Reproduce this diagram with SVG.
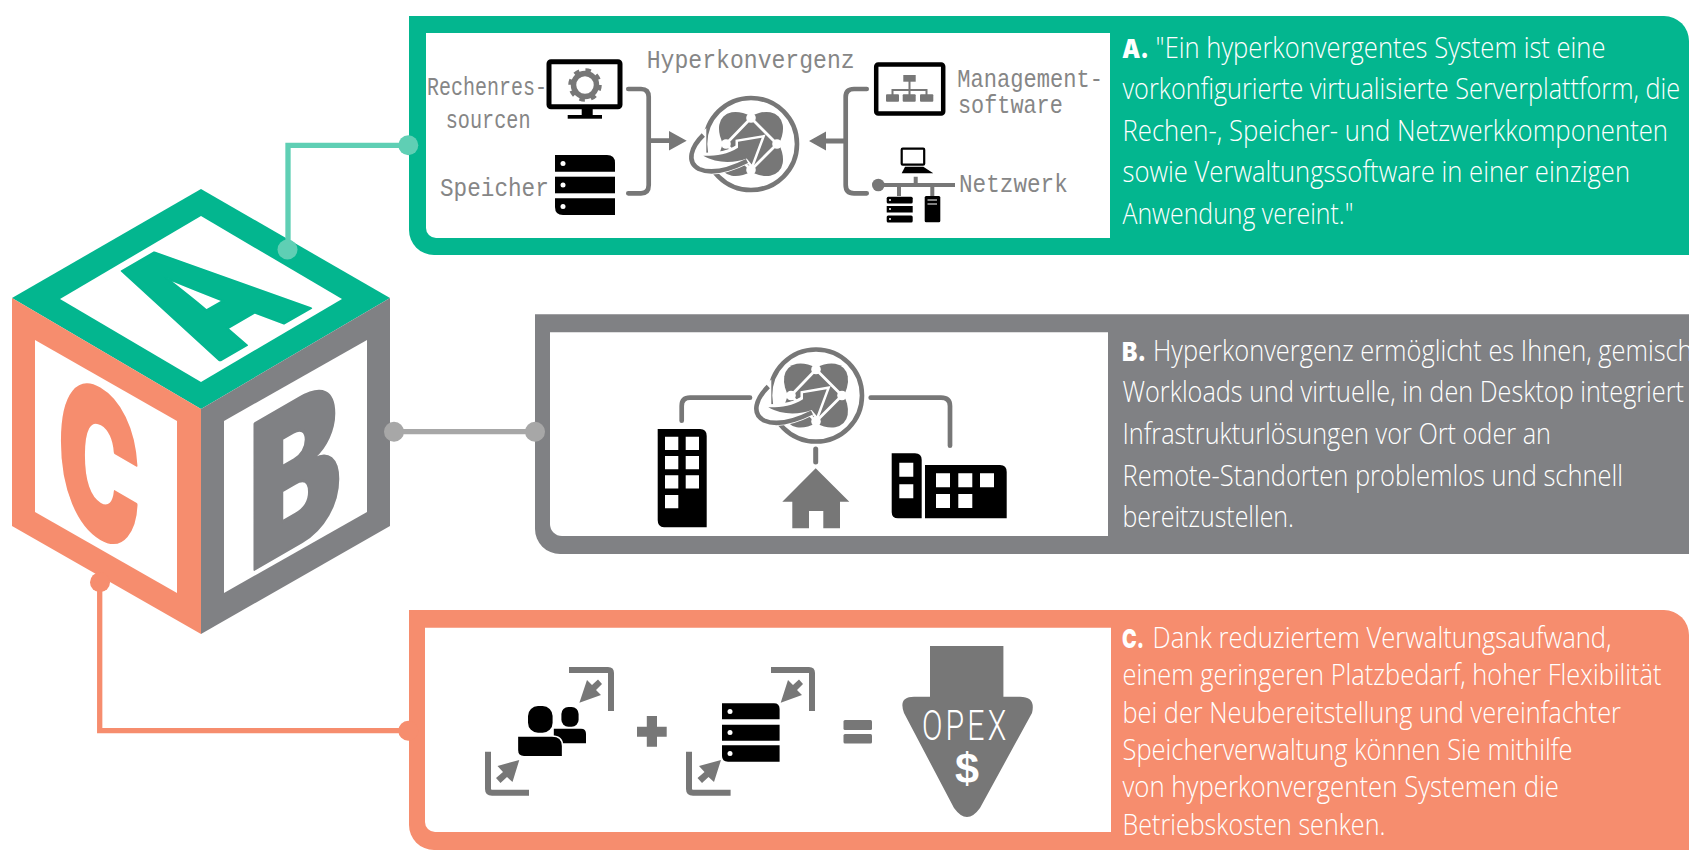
<svg xmlns="http://www.w3.org/2000/svg" width="1689" height="852" viewBox="0 0 1689 852">
<style>
.t{font-family:"Open Sans","Liberation Sans",sans-serif;font-weight:300;font-size:29px;fill:#fff}
.b{font-family:"Inter","Liberation Sans",sans-serif;font-weight:900;font-size:26px;fill:#fff}
.m{font-family:"Liberation Mono","DejaVu Sans Mono",monospace;font-size:26px;fill:#868686}
.big{font-family:"Inter","Liberation Sans",sans-serif;font-weight:900;font-size:200px;stroke-linejoin:round;stroke-width:3px}
.k{fill:#000}.g{fill:#777}.w{fill:#fff}
.ln{fill:none;stroke:#777;stroke-width:4.700px;stroke-linecap:round;stroke-linejoin:round}
.gr{fill:none;stroke:#777;stroke-width:6px}
</style>
<defs>
<symbol id="hyper" overflow="visible" viewBox="-65 -55 130 110" width="130" height="110">
<circle r="46" fill="none" stroke="#777" stroke-width="4.600"/>
<ellipse rx="39" ry="23" transform="rotate(45)" fill="#777"/>
<ellipse rx="39" ry="23" transform="rotate(-45)" fill="#777"/>
<path d="M-25 0L0 -26L26 0L0 26Z" fill="none" stroke="#fff" stroke-width="2.800"/>
<path d="M-47.700 -9C-60 3 -65 18 -52 25C-38 31 -18 24 -4 17L-13 3.800C-24 11 -36 12 -47.700 11.800Z" fill="#fff" stroke="#fff" stroke-width="6"/>
<path d="M-47.700 11.800C-36 12 -24 11 -13 3.800L-13 -2.200L10.700 -6.200L.7 20.500L-4.300 14.500C-16 19 -34 20 -47.700 11.800Z" fill="#fff" stroke="#fff" stroke-width="5"/>
<path d="M-47.700 -9C-60 3 -65 18 -52 25C-38 31 -18 24 -4 17" fill="none" stroke="#777" stroke-width="4.600"/>
<path d="M-47.700 11.800C-36 12 -24 11 -13 3.800L-13 -2.200L10.700 -6.200L.7 20.500L-4.300 14.500C-16 19 -34 20 -47.700 11.800Z" fill="#777"/>
<circle cx="0" cy="-26" r="4.800" fill="#fff"/><circle cx="26" cy="0" r="4.800" fill="#fff"/><circle cx="0" cy="26" r="4.800" fill="#fff"/><circle cx="-25" cy="0" r="4.800" fill="#fff"/>
</symbol>
<symbol id="srv" overflow="visible" viewBox="0 0 60 60" width="60" height="60">
<path d="M0 0H52Q60 0 60 8V16.700H0Z" class="k"/><rect y="21.700" width="60" height="16.600" class="k"/><path d="M0 43.300H60V60H8Q0 60 0 52Z" class="k"/>
<circle cx="8" cy="8.500" r="2.500" class="w"/><circle cx="8" cy="30" r="2.500" class="w"/><circle cx="8" cy="51.500" r="2.500" class="w"/>
</symbol>
</defs>
<g id="cube">
<path d="M201 189L390 298L201 409L12 298Z" fill="#03b68f"/>
<path d="M201 216L342 299L201 382L60 299Z" fill="#fff"/>
<path d="M12 298L201 409V634L12 526Z" fill="#f68d6e"/>
<path d="M35 340L177 421V593L35 512Z" fill="#fff"/>
<path d="M390 298L201 409V634L390 526Z" fill="#808184"/>
<path d="M367 340L224 421V593L367 512Z" fill="#fff"/>
<text class="big" fill="#03b68f" stroke="#03b68f" transform="matrix(.606 -.35 .866 .5 217 362)">A</text>
<text class="big" fill="#808184" stroke="#808184" transform="matrix(.7 -.405 0 1 248 573)">B</text>
<text class="big" fill="#f68d6e" stroke="#f68d6e" transform="matrix(.55 .318 0 1 58 512)">C</text>
</g>
<g id="panel-a">
<path d="M409 16H1664A25 25 0 0 1 1689 41V255H434A25 25 0 0 1 409 230Z" fill="#03b68f"/>
<path d="M426 33H1110V238H436A10 10 0 0 1 426 228Z" fill="#fff"/>
<text class="b" x="1122" y="57.700" textLength="27" lengthAdjust="spacingAndGlyphs">A.</text>
<g transform="translate(1155.600 0) scale(.76 1)"><text class="t" y="57.700" textLength="592" lengthAdjust="spacingAndGlyphs">"Ein hyperkonvergentes System ist eine</text></g>
<g transform="translate(1122.500 0) scale(.76 1)">
<text class="t" y="99.300" textLength="733.600" lengthAdjust="spacingAndGlyphs">vorkonfigurierte virtualisierte Serverplattform, die</text>
<text class="t" y="140.700" textLength="717.800" lengthAdjust="spacingAndGlyphs">Rechen-, Speicher- und Netzwerkkomponenten</text>
<text class="t" y="182.300" textLength="667.800" lengthAdjust="spacingAndGlyphs">sowie Verwaltungssoftware in einer einzigen</text>
<text class="t" y="224" textLength="304" lengthAdjust="spacingAndGlyphs">Anwendung vereint."</text>
</g>
<text class="m" transform="translate(427 95) scale(.8 1)" textLength="150" lengthAdjust="spacingAndGlyphs">Rechenres-</text>
<text class="m" transform="translate(445.700 128) scale(.8 1)" textLength="106" lengthAdjust="spacingAndGlyphs">sourcen</text>
<text class="m" transform="translate(440 196) scale(.8 1)" textLength="136" lengthAdjust="spacingAndGlyphs">Speicher</text>
<text class="m" transform="translate(646.700 68) scale(.8 1)" textLength="260" lengthAdjust="spacingAndGlyphs">Hyperkonvergenz</text>
<text class="m" transform="translate(957.300 86.700) scale(.8 1)" textLength="182" lengthAdjust="spacingAndGlyphs">Management-</text>
<text class="m" transform="translate(958 113) scale(.8 1)" textLength="131" lengthAdjust="spacingAndGlyphs">software</text>
<text class="m" transform="translate(959 192) scale(.8 1)" textLength="136" lengthAdjust="spacingAndGlyphs">Netzwerk</text>
<rect x="549" y="61.800" width="71" height="45" rx="2" fill="#fff" stroke="#000" stroke-width="5"/>
<rect x="581.700" y="109" width="11" height="6" class="k"/><rect x="567.700" y="115" width="34.300" height="3.700" class="k"/>
<circle cx="585" cy="85" r="11.500" fill="none" stroke="#777" stroke-width="5.500"/>
<circle cx="585" cy="85" r="15" fill="none" stroke="#777" stroke-width="3.500" stroke-dasharray="5.500 6.280"/>
<use href="#srv" x="555" y="155"/>
<path class="ln" d="M628.300 89H641Q648.700 89 648.700 97V185Q648.700 193.300 641 193.300H628.300"/>
<path d="M648.700 138.300H669V131L686.700 140.700L669 150.400V143H648.700Z" class="g"/>
<use href="#hyper" x="686" y="89"/>
<path class="ln" d="M866.700 89H854Q845.700 89 845.700 97V185Q845.700 193.300 854 193.300H866.700"/>
<path d="M845.700 138.600H826V131.500L809 141L826 150.500V143.400H845.700Z" class="g"/>
<rect x="876.200" y="64.500" width="67" height="49" rx="2" fill="#fff" stroke="#000" stroke-width="4.500"/>
<rect x="903.300" y="75" width="12.400" height="6.700" class="g"/><path d="M909.500 81V90M892.500 95V90H926.500V95M909.500 90V95" fill="none" stroke="#777" stroke-width="2"/>
<rect x="886" y="94.300" width="13" height="7.400" rx="1" class="g"/><rect x="902.700" y="94.300" width="13" height="7.400" rx="1" class="g"/><rect x="920" y="94.300" width="13.300" height="7.400" rx="1" class="g"/>
<circle cx="878.300" cy="185" r="6.300" class="g"/><path d="M878 185H955M915.700 176.700V185M899 185V196M932.300 185V196" fill="none" stroke="#777" stroke-width="4"/>
<rect x="901.700" y="148.700" width="22.500" height="16" rx="1" fill="#fff" stroke="#000" stroke-width="2.200"/><path d="M905 166.700H923.300L933.300 173.300H901.700Z" class="k"/>
<rect x="886.700" y="196.700" width="26" height="6.800" rx="1.500" class="k"/><rect x="886.700" y="206" width="26" height="6.500" class="k"/><rect x="886.700" y="215.600" width="26" height="6.800" rx="1.500" class="k"/>
<circle cx="890" cy="200" r="1" class="w"/><circle cx="890" cy="209" r="1" class="w"/><circle cx="890" cy="219" r="1" class="w"/>
<rect x="924.700" y="196" width="15.600" height="26.300" rx="1.500" class="k"/><path d="M927.500 200H937M927.500 204H937" stroke="#fff" stroke-width="1" fill="none"/>
</g>
<g id="panel-b">
<path d="M535 314.300H1689V554H560A25 25 0 0 1 535 529Z" fill="#808184"/>
<path d="M550 332.300H1108V536H562A12 12 0 0 1 550 524Z" fill="#fff"/>
<text class="b" x="1122" y="360.700" textLength="24" lengthAdjust="spacingAndGlyphs">B.</text>
<g transform="translate(1153 0) scale(.76 1)"><text class="t" y="360.700" textLength="710" lengthAdjust="spacingAndGlyphs">Hyperkonvergenz ermöglicht es Ihnen, gemisch</text></g>
<g transform="translate(1122.500 0) scale(.76 1)">
<text class="t" y="402" textLength="738.800" lengthAdjust="spacingAndGlyphs">Workloads und virtuelle, in den Desktop integriert</text>
<text class="t" y="444" textLength="563.800" lengthAdjust="spacingAndGlyphs">Infrastrukturlösungen vor Ort oder an</text>
<text class="t" y="485.700" textLength="658.600" lengthAdjust="spacingAndGlyphs">Remote-Standorten problemlos und schnell</text>
<text class="t" y="527" textLength="225.700" lengthAdjust="spacingAndGlyphs">bereitzustellen.</text>
</g>
<use href="#hyper" x="751" y="340.500"/>
<path class="ln" d="M750 397.700H690Q681.700 397.700 681.700 406V420.700"/>
<path class="ln" d="M870.700 397.700H941Q950 397.700 950 406V445.700"/>
<path class="ln" d="M815.700 449V462" style="stroke-width:5px"/>
<path d="M657.700 429H700Q706.700 429 706.700 436V527.300H664Q657.700 527.300 657.700 520Z" class="k"/>
<path fill="#fff" d="M665 436.700h13.300v13.300h-13.300zM685.700 436.700h13.300v13.300h-13.300zM665 456h13.300v13.300h-13.300zM685.700 456h13.300v13.300h-13.300zM665 475.300h13.300v13.300h-13.300zM685.700 475.300h13.300v13.300h-13.300zM665 495h13.300v13.300h-13.300z"/>
<path d="M815.700 468.300L849.300 501.700H840V528.300H823.300V511H809V528.300H792.300V501.700H782.300Z" class="g"/>
<path d="M891.700 453.300H915Q921.700 453.300 921.700 460V518.300H898Q891.700 518.300 891.700 512Z" class="k"/>
<path d="M925 465H1000Q1006.700 465 1006.700 472V518.300H925Z" class="k"/>
<path fill="#fff" d="M899.300 462.700h14v14h-14zM899.300 484.300h14v14h-14zM936 473.300h14v14h-14zM958.300 473.300h14v14h-14zM980 473.300h14v14h-14zM936 494h14v14h-14zM958.300 494h14v14h-14z"/>
</g>
<g id="panel-c">
<path d="M409 610H1664A25 25 0 0 1 1689 635V850H434A25 25 0 0 1 409 825Z" fill="#f68d6e"/>
<path d="M425 627.700H1111V832H435A10 10 0 0 1 425 822Z" fill="#fff"/>
<text class="b" x="1122" y="647.700" textLength="22" lengthAdjust="spacingAndGlyphs">C.</text>
<g transform="translate(1152.600 0) scale(.76 1)"><text class="t" y="647.700" textLength="604" lengthAdjust="spacingAndGlyphs">Dank reduziertem Verwaltungsaufwand,</text></g>
<g transform="translate(1122.500 0) scale(.76 1)">
<text class="t" y="685" textLength="709.200" lengthAdjust="spacingAndGlyphs">einem geringeren Platzbedarf, hoher Flexibilität</text>
<text class="t" y="722.700" textLength="655.900" lengthAdjust="spacingAndGlyphs">bei der Neubereitstellung und vereinfachter</text>
<text class="t" y="760" textLength="592.100" lengthAdjust="spacingAndGlyphs">Speicherverwaltung können Sie mithilfe</text>
<text class="t" y="797" textLength="574.300" lengthAdjust="spacingAndGlyphs">von hyperkonvergenten Systemen die</text>
<text class="t" y="835" textLength="346" lengthAdjust="spacingAndGlyphs">Betriebskosten senken.</text>
</g>
<path class="gr" d="M569 670H608Q611 670 611 673V711"/>
<path class="gr" d="M488 751.700V789Q488 792.700 492 792.700H529"/>
<path class="g" d="M579.400 702.700L587 680L592 685L598 679.500L602 684L596 690L601 695Z"/>
<path class="g" d="M519.300 760L497.500 766L503 772L496 778L500.500 783L507 777L512.500 782Z"/>
<rect x="528" y="706" width="24.600" height="26.700" rx="10" class="k"/>
<rect x="561.400" y="707" width="17.200" height="19.700" rx="7" class="k"/>
<path d="M553.800 728.700H581Q586 728.700 586 734V743.300H553.800Z" class="k"/>
<path d="M517.400 736H552Q562.600 736 562.600 746V756.700H524Q517.400 756.700 517.400 750Z" class="k" stroke="#fff" stroke-width="1.500"/>
<path fill="#777" d="M646.800 716H657V726.700H666.700V736.700H657V746.700H646.800V736.700H637V726.700H646.800Z"/>
<path class="gr" d="M771 670H809Q812 670 812 673V711"/>
<path class="gr" d="M689 751.700V789Q689 792.700 693 792.700H730.600"/>
<path class="g" d="M780.700 702.700L788 680L793 685L799 679.500L803 684L797 690L802 695Z"/>
<path class="g" d="M721 760L699 766L704.500 772L697.500 778L702 783L708.500 777L714 782Z"/>
<path d="M722 703.300H774Q779.600 703.300 779.600 709V719.300H722ZM722 724.700H779.600V740.700H722ZM722 745.300H779.600V761.700H728Q722 761.700 722 756Z" class="k"/>
<circle cx="730" cy="711.500" r="2.500" class="w"/><circle cx="730" cy="732.500" r="2.500" class="w"/><circle cx="730" cy="753.500" r="2.500" class="w"/>
<rect x="843.500" y="720" width="28.500" height="10" rx="1.500" class="g"/><rect x="843.500" y="734" width="28.500" height="9.500" rx="1.500" class="g"/>
<path class="g" d="M930 646H1003.400V696.700H1020Q1036 696.700 1032 713L980 808Q967 826 954 808L904 713Q898 696.700 914 696.700H930Z"/>
<text transform="translate(922 740) scale(.72 1)" textLength="117" lengthAdjust="spacing" style="font-family:'Roboto','Liberation Sans',sans-serif;font-weight:300;font-size:42px;fill:#fff">OPEX</text>
<text x="955" y="783" textLength="24" lengthAdjust="spacingAndGlyphs" style="font-family:'Liberation Sans',sans-serif;font-weight:700;font-size:42px;fill:#fff">$</text>
</g>
<g id="connectors">
<path d="M288 249V145.300H408" fill="none" stroke="#5fcfb4" stroke-width="5.300"/>
<circle cx="287.500" cy="249.500" r="10" fill="#5fcfb4"/>
<circle cx="408.300" cy="145.300" r="10" fill="#5fcfb4"/>
<path d="M394 431.700H535" fill="none" stroke="#a7a7a7" stroke-width="5.300"/>
<circle cx="394" cy="431.700" r="10" fill="#a7a7a7"/>
<circle cx="535" cy="431.700" r="10" fill="#a7a7a7"/>
<path d="M99.700 582V730.700H408" fill="none" stroke="#f68d6e" stroke-width="5.300"/>
<circle cx="100" cy="582.300" r="10" fill="#f68d6e"/>
<circle cx="408.300" cy="730.700" r="10" fill="#f68d6e"/>
</g>
</svg>
